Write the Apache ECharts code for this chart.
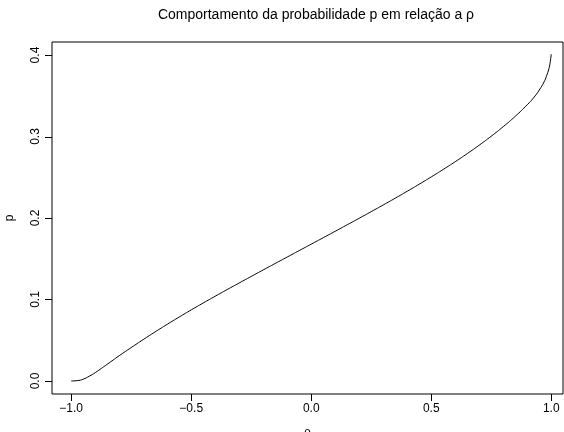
<!DOCTYPE html>
<html>
<head>
<meta charset="utf-8">
<script src="https://cdn.jsdelivr.net/npm/echarts@6/dist/echarts.min.js"></script>
<style>html,body{margin:0;padding:0;background:#fff}#c{width:564px;height:432px}</style>
</head>
<body>
<div id="c"></div>
<script>
const rho = [-1.00,-0.975,-0.95,-0.925,-0.90,-0.85,-0.80,-0.75,-0.70,-0.65,-0.60,-0.55,-0.50,-0.45,-0.40,-0.35,-0.30,-0.25,-0.20,-0.15,-0.10,-0.05,0.00,0.05,0.10,0.15,0.20,0.25,0.30,0.35,0.40,0.45,0.50,0.55,0.60,0.65,0.70,0.75,0.80,0.85,0.90,0.925,0.95,0.97,0.98,0.99,0.995,1.00];
const prob = [0.0000,0.0004,0.0022,0.0058,0.0102,0.0205,0.0310,0.0410,0.0508,0.0603,0.0695,0.0785,0.0872,0.0957,0.1040,0.1122,0.1203,0.1283,0.1363,0.1442,0.1521,0.1600,0.1679,0.1758,0.1837,0.1917,0.1997,0.2078,0.2160,0.2243,0.2328,0.2415,0.2504,0.2596,0.2691,0.2790,0.2894,0.3004,0.3121,0.3248,0.3390,0.3470,0.3570,0.3670,0.3740,0.3830,0.3900,0.4010];
const xTicks = [-1.0,-0.5,0.0,0.5,1.0];
const yTicks = [0.0,0.1,0.2,0.3,0.4];
const titleText = 'Comportamento da probabilidade p em relação a ρ';
const xName = 'ρ';
const yName = 'p';

const font = 'Liberation Sans, Arial, Helvetica, sans-serif';
const fmt = v => { const s = Number(v).toFixed(1); return s.replace('-', '\u2212'); };
// R-style 4% extension on the left/bottom/top; right side runs to the window edge
const xLo = -1.08, xHi = 1.049, yLo = -0.016, yHi = 0.416;
const TICK = 7;
const txt = {fontSize: 12, color: '#000', fontFamily: font};

const chart = echarts.init(document.getElementById('c'), null, {renderer:'canvas'});
chart.setOption({
  animation: false,
  backgroundColor: '#fff',
  title: {
    text: titleText, left: 311, top: 3, textAlign: 'center',
    textStyle: {fontSize: 14, fontWeight: 'normal', color: '#000', fontFamily: font}
  },
  grid: {left: 52, top: 42, width: 511, height: 352, show: true, borderColor: '#000', borderWidth: 1,
         backgroundColor: 'transparent', outerBoundsMode: 'none'},
  xAxis: {
    type: 'value', min: xLo, max: xHi,
    name: xName, nameLocation: 'middle', nameGap: 33, nameTextStyle: txt,
    axisLine: {show: false, onZero: false},
    splitLine: {show: false},
    axisTick: {show: false},
    axisLabel: Object.assign({customValues: xTicks, formatter: fmt, margin: 9}, txt)
  },
  yAxis: {
    type: 'value', min: yLo, max: yHi,
    name: yName, nameLocation: 'middle', nameGap: 36, nameRotate: 90, nameTextStyle: txt,
    axisLine: {show: false, onZero: false},
    splitLine: {show: false},
    axisTick: {show: false},
    axisLabel: Object.assign({customValues: yTicks, formatter: fmt, rotate: 90, margin: 10}, txt)
  },
  series: [
    {
      type: 'line',
      data: rho.map((r, i) => [r, prob[i]]),
      showSymbol: false,
      smooth: 0.5,
      lineStyle: {color: '#000', width: 1}
    }
  ]
});

// Tick marks placed through the chart's own scales
const tickEls = [];
xTicks.forEach(v => {
  const p = chart.convertToPixel({xAxisIndex: 0, yAxisIndex: 0}, [v, yLo]);
  const x = Math.round(p[0]) + 0.5, y = Math.round(p[1]);
  tickEls.push({type: 'line', silent: true, z: 100, zlevel: 1,
                shape: {x1: x, y1: y, x2: x, y2: y + TICK}, style: {stroke: '#000', lineWidth: 1}});
});
yTicks.forEach(v => {
  const p = chart.convertToPixel({xAxisIndex: 0, yAxisIndex: 0}, [xLo, v]);
  const x = Math.round(p[0]), y = Math.round(p[1]) + 0.5;
  tickEls.push({type: 'line', silent: true, z: 100, zlevel: 1,
                shape: {x1: x, y1: y, x2: x - TICK, y2: y}, style: {stroke: '#000', lineWidth: 1}});
});
chart.setOption({graphic: {elements: tickEls}});
</script>
</body>
</html>
